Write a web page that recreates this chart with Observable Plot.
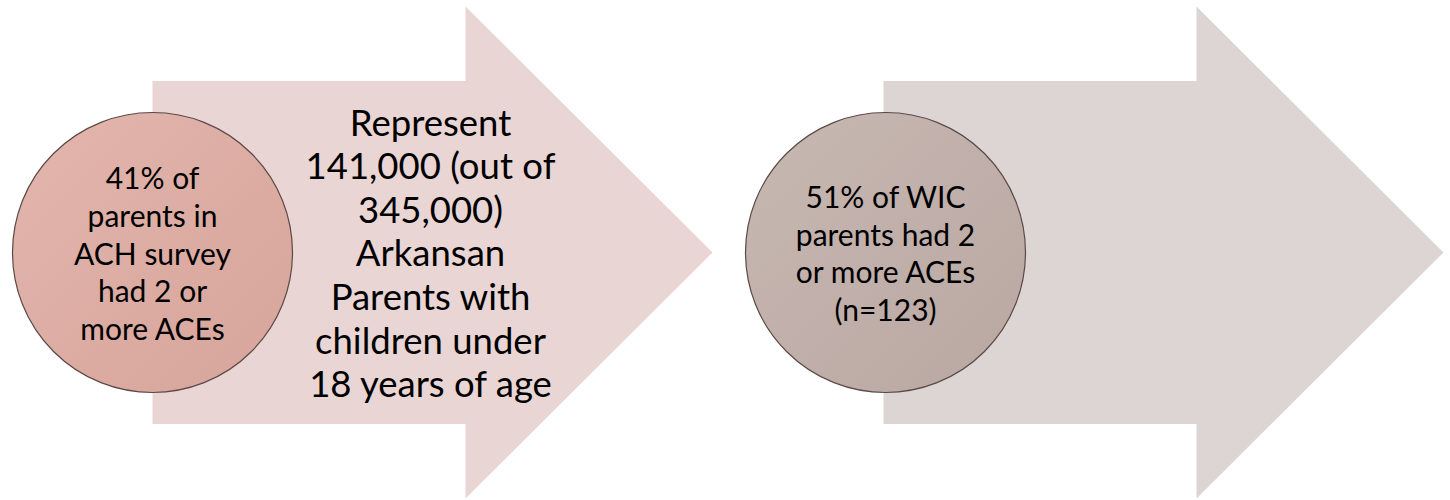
<!DOCTYPE html>
<html>
<head>
<meta charset="utf-8">
<script src="https://cdn.jsdelivr.net/npm/d3@7"></script>
<script src="https://cdn.jsdelivr.net/npm/@observablehq/plot@0.6"></script>
<style>
  html, body { margin: 0; padding: 0; background: #ffffff; }
  #chart svg { display: block; }
</style>
</head>
<body>
<div id="chart"></div>
<script>
// ---- Data ----
const stages = ["ACH survey", "WIC"];
const circleLabels = [
  "41% of\nparents in\nACH survey\nhad 2 or\nmore ACEs",
  "51% of WIC\nparents had 2\nor more ACEs\n(n=123)"
];
const arrowLabels = [
  "Represent\n141,000 (out of\n345,000)\nArkansan\nParents with\nchildren under\n18 years of age",
  ""
];
const arrowColors = ["#e9d5d4", "#ddd5d3"];
const circleColorsLight = ["#e3b6ad", "#c8b8b2"];
const circleColorsDark = ["#d6a49b", "#b9a7a2"];

// ---- Layout (pixel space, 1450 x 500) ----
const W = 1450, H = 500;
const stageStep = 731;      // horizontal distance between the two arrows
const arrowLeft = 152, headBase = 465, tip = 712;
const midY = 252, bodyHalf = 171.5, headHalf = 246;
const circleR = 140;

const arrowPts = stages.flatMap((s, i) => {
  const o = i * stageStep;
  return [
    [arrowLeft + o, midY - bodyHalf],
    [headBase + o, midY - bodyHalf],
    [headBase + o, midY - headHalf],
    [tip + o, midY],
    [headBase + o, midY + headHalf],
    [headBase + o, midY + bodyHalf],
    [arrowLeft + o, midY + bodyHalf]
  ].map(([x, y]) => ({stage: s, i, x, y}));
});

const circles = stages.map((s, i) => ({
  stage: s, i, x: arrowLeft + i * stageStep + (i ? 2 : 0), y: midY, label: circleLabels[i]
}));
const arrowTexts = stages.map((s, i) => ({
  stage: s, x: 430 + i * stageStep, y: midY, label: arrowLabels[i]
})).filter(d => d.label);

// gradient defs mark
const defs = () => {
  const svg = d3.create("svg:defs");
  stages.forEach((s, i) => {
    const g = svg.append("linearGradient")
      .attr("id", "cg" + i)
      .attr("x1", "0").attr("y1", "0").attr("x2", "1").attr("y2", "1");
    g.append("stop").attr("offset", "0%").attr("stop-color", circleColorsLight[i]);
    g.append("stop").attr("offset", "100%").attr("stop-color", circleColorsDark[i]);
  });
  return svg.node();
};

const chart = Plot.plot({
  width: W,
  height: H,
  margin: 0,
  style: {fontFamily: "Lato, 'Open Sans', sans-serif", background: "#ffffff", color: "#000"},
  x: {domain: [0, W], range: [0, W], axis: null},
  y: {domain: [0, H], range: [0, H], axis: null},
  marks: [
    defs,
    ...stages.map((s, i) =>
      Plot.line(arrowPts.filter(d => d.i === i), {
        x: "x", y: "y", curve: "linear-closed",
        fill: arrowColors[i], stroke: "none"
      })
    ),
    ...circles.map((c, i) =>
      Plot.dot([c], {
        x: "x", y: "y", r: circleR,
        fill: `url(#cg${i})`, stroke: "#5b4946", strokeWidth: 1.2
      })
    ),
    Plot.text(circles, {
      x: "x", y: "y", text: "label",
      fontSize: 30, lineHeight: 1.257, lineAnchor: "middle",
      textAnchor: "middle", fill: "#000"
    }),
    Plot.text(arrowTexts, {
      x: "x", y: "y", text: "label",
      fontSize: 36.5, lineHeight: 1.195, lineAnchor: "middle",
      textAnchor: "middle", fill: "#000"
    })
  ]
});

document.getElementById("chart").appendChild(chart);
</script>
</body>
</html>
